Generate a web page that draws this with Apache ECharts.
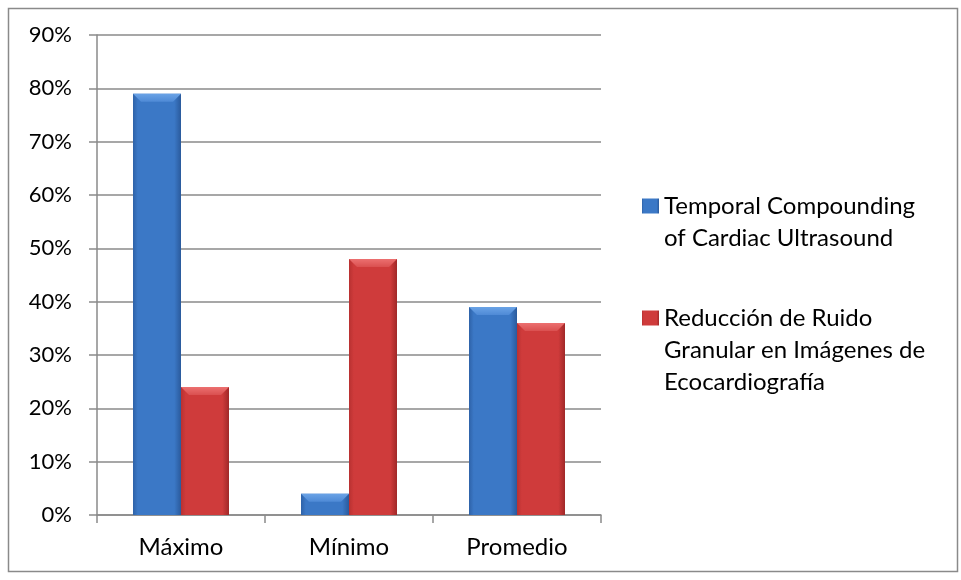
<!DOCTYPE html>
<html>
<head>
<meta charset="utf-8">
<script src="https://cdn.jsdelivr.net/npm/echarts@6/dist/echarts.min.js"></script>
<style>
  html, body { margin: 0; padding: 0; background: #fff; }
  #chart { width: 961px; height: 580px; }
</style>
</head>
<body>
<div id="chart"></div>
<script>
// Categories and series values (fractions, shown as percentages)
const categories = ['Máximo', 'Mínimo', 'Promedio'];
const seriesNames = [
  'Temporal Compounding\nof Cardiac Ultrasound',
  'Reducción de Ruido\nGranular en Imágenes de\nEcocardiografía'
];
const temporalValues = [0.79, 0.04, 0.39];
const reduccionValues = [0.24, 0.48, 0.36];

const FONT = 'Lato, "Open Sans", sans-serif';
const LINE_H = 32;
const BAR_W = 48;

// Bar body: flat centre with darker bevelled side edges
function barGradient(edgeL, mid, edgeR) {
  return new echarts.graphic.LinearGradient(0, 0, 1, 0, [
    { offset: 0, color: edgeL },
    { offset: 0.1, color: mid },
    { offset: 0.86, color: mid },
    { offset: 1, color: edgeR }
  ]);
}
// Lighter bevel band across the top of each bar
function capGradient(top, bottom) {
  return new echarts.graphic.LinearGradient(0, 0, 0, 1, [
    { offset: 0, color: top },
    { offset: 1, color: bottom }
  ]);
}

const blueFill = barGradient('#2e62a8', '#3b78c6', '#2a5a9c');
const redFill = barGradient('#b83131', '#cf3b3b', '#a02828');
const CAP_PATH = 'path://M0,0 L48,0 L40,8 L8,8 Z';

// Legend text is centred on its icon; prepend (lines - 1) blank lines so the
// first real line sits level with the icon.
function legendFor(top) {
  return {
    left: 642, top,
    padding: 0,
    orient: 'vertical',
    icon: 'rect', itemWidth: 17, itemHeight: 15,
    formatter: name => '\n'.repeat(name.split('\n').length - 1) + name,
    textStyle: { fontFamily: FONT, fontSize: 24, color: '#000', lineHeight: LINE_H }
  };
}

function capSeries(values, offsetX, fill) {
  return {
    type: 'pictorialBar',
    data: values,
    symbol: CAP_PATH,
    symbolSize: [BAR_W, 8],
    symbolPosition: 'end',
    symbolOffset: [offsetX, 0],
    itemStyle: { color: fill },
    silent: true,
    z: 4
  };
}

const chart = echarts.init(document.getElementById('chart'), null, { renderer: 'canvas' });

chart.setOption({
  backgroundColor: '#ffffff',
  animation: false,
  graphic: [{
    type: 'rect',
    shape: { x: 8.5, y: 8.5, width: 949, height: 563 },
    style: { fill: 'none', stroke: '#8a8a8a', lineWidth: 1.5 },
    silent: true
  }],
  grid: { left: 97, right: 360, top: 35, bottom: 65, containLabel: false },
  legend: [
    Object.assign(legendFor(158), { data: [seriesNames[0]] }),
    Object.assign(legendFor(238), { data: [seriesNames[1]] })
  ],
  xAxis: {
    type: 'category',
    data: categories,
    axisLine: { show: true, lineStyle: { color: '#8a8a8a', width: 1.5 } },
    axisTick: { show: true, length: 8, lineStyle: { color: '#8a8a8a', width: 1.5 } },
    axisLabel: { fontFamily: FONT, fontSize: 24, color: '#000', margin: 20 }
  },
  yAxis: {
    type: 'value',
    min: 0, max: 0.9, interval: 0.1,
    axisLine: { show: true, lineStyle: { color: '#8a8a8a', width: 1.5 } },
    axisTick: { show: true, length: 8, lineStyle: { color: '#8a8a8a', width: 1.5 } },
    axisLabel: {
      fontFamily: FONT, fontSize: 22, color: '#000', margin: 25,
      formatter: v => Math.round(v * 100) + '%'
    },
    splitLine: { show: true, lineStyle: { color: '#8a8a8a', width: 1.5 } }
  },
  series: [
    {
      name: seriesNames[0],
      type: 'bar',
      data: temporalValues,
      barWidth: BAR_W,
      barGap: '0%',
      itemStyle: { color: blueFill },
      z: 3
    },
    {
      name: seriesNames[1],
      type: 'bar',
      data: reduccionValues,
      barWidth: BAR_W,
      barGap: '0%',
      itemStyle: { color: redFill },
      z: 3
    },
    capSeries(temporalValues, -BAR_W / 2, capGradient('#6aa3e6', '#4f8ad6')),
    capSeries(reduccionValues, BAR_W / 2, capGradient('#ec7070', '#da5050'))
  ]
});
</script>
</body>
</html>
